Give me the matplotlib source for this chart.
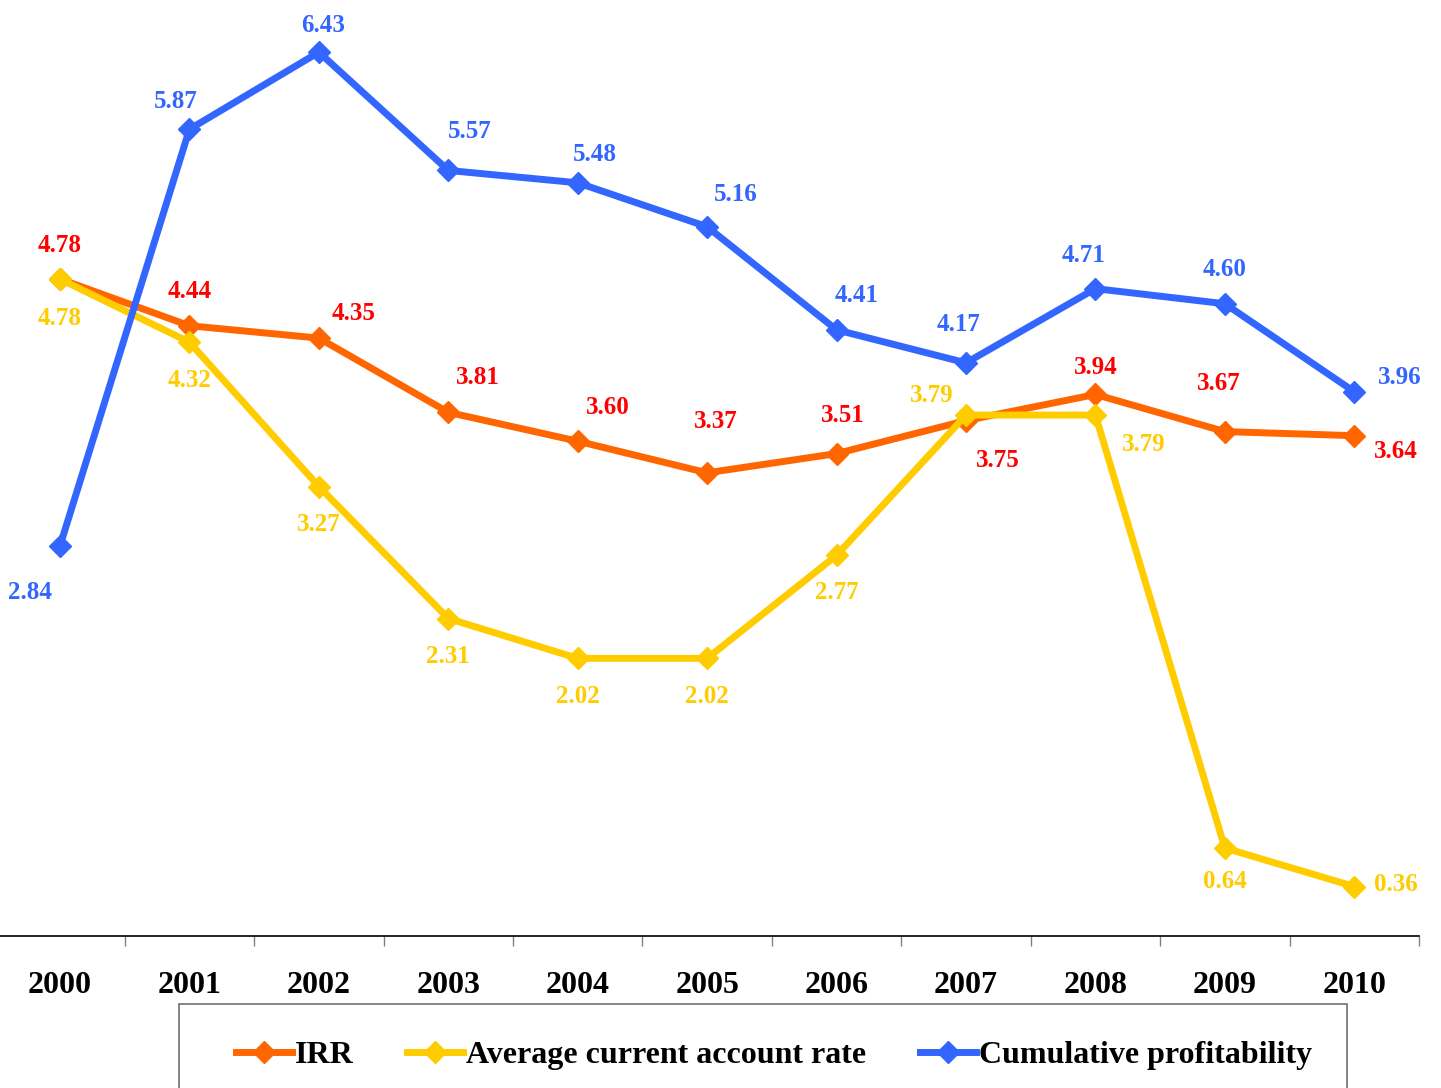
import matplotlib
matplotlib.use("Agg")
import matplotlib.pyplot as plt
from matplotlib.patches import Rectangle

years = ["2000", "2001", "2002", "2003", "2004", "2005", "2006", "2007", "2008", "2009", "2010"]
irr = [4.78, 4.44, 4.35, 3.81, 3.60, 3.37, 3.51, 3.75, 3.94, 3.67, 3.64]
avg_rate = [4.78, 4.32, 3.27, 2.31, 2.02, 2.02, 2.77, 3.79, 3.79, 0.64, 0.36]
cumulative = [2.84, 5.87, 6.43, 5.57, 5.48, 5.16, 4.41, 4.17, 4.71, 4.60, 3.96]
series_names = ["IRR", "Average current account rate", "Cumulative profitability"]

# label offsets in pixels (dx, dy with dy positive downward)
irr_off = [(0, -34), (0, -34), (35, -25), (30, -35), (30, -34), (9, -51), (6, -38), (32, 40), (0, -27), (-6, -48), (42, 16)]
avg_off = [(0, 39), (0, 38), (0, 38), (0, 38), (0, 38), (0, 38), (0, 37), (-34, -20), (48, 29), (0, 33), (42, -2)]
cum_off = [(-30, 47), (-14, -28), (4, -27), (21, -39), (17, -28), (29, -32), (20, -34), (-7, -38), (-12, -33), (0, -34), (45, -14)]

W, H = 1441, 1088
fig = plt.figure(figsize=(W / 100, H / 100), dpi=100)
ax = fig.add_axes([0, 1 - 936 / H, 1419 / W, 936 / H])
serif = "Liberation Serif"

x = list(range(len(years)))
line_cols = ["#FF6600", "#FFCC00", "#3366FF"]
text_cols = ["#FF0000", "#FFCC00", "#3366FF"]
data = [irr, avg_rate, cumulative]
offs = [irr_off, avg_off, cum_off]
handles = []
for vals, lc, tc, off, name in zip(data, line_cols, text_cols, offs, series_names):
    h, = ax.plot(x, vals, color=lc, lw=5, marker="D", ms=11, mec=lc, mfc=lc,
                 clip_on=False, label=name, solid_joinstyle="miter")
    handles.append(h)
    for xi, v, (dx, dy) in zip(x, vals, off):
        ax.annotate(f"{v:.2f}", (xi, v), xytext=(dx * 0.72, -dy * 0.72), textcoords="offset points",
                    ha="center", va="center", color=tc, fontsize=18, fontweight="bold",
                    family=serif, annotation_clip=False)

for s in ["left", "right", "top"]:
    ax.spines[s].set_visible(False)
ax.spines["bottom"].set_linewidth(1.2)
ax.set_yticks([])
ax.set_xticks(x)
ax.set_xticklabels(years, fontsize=23, fontweight="bold", family=serif)
ax.tick_params(axis="x", which="major", length=0, pad=25)
ax.set_xticks([i - 0.5 for i in range(len(years) + 1)], minor=True)
ax.tick_params(axis="x", which="minor", length=7, width=1, color="#808080")
ax.set_xlim(-0.464, 10.5)
ax.set_ylim(0, 6.81)

# legend
fig.patches.append(Rectangle((179 / W, 1 - 1100 / H), (1347 - 179) / W, (1100 - 1004) / H,
                             transform=fig.transFigure, fill=False, edgecolor="#707070", lw=1.2))
leg = fig.legend(handles=handles, loc="center left", bbox_to_anchor=(220 / W, 1 - 1055 / H),
                 ncol=3, frameon=False, borderpad=0, handlelength=1.75, handletextpad=0.08,
                 columnspacing=1.7, prop={"family": serif, "weight": "bold", "size": 23})

fig.savefig("out.png", dpi=100)
